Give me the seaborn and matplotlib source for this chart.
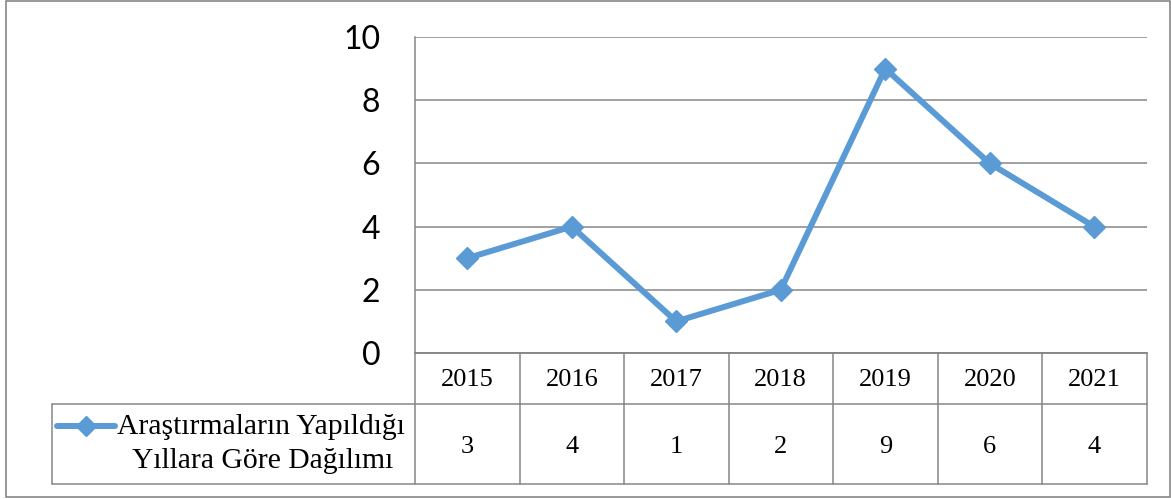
import numpy as np
import matplotlib
matplotlib.use("Agg")
import matplotlib.pyplot as plt
import seaborn as sns
from matplotlib.lines import Line2D
from matplotlib.patches import Rectangle

years = ["2015", "2016", "2017", "2018", "2019", "2020", "2021"]
values = [3, 4, 1, 2, 9, 6, 4]
series_name_1 = "Araştırmaların Yapıldığı"
series_name_2 = "Yıllara Göre Dağılımı"
y_ticks = [0, 2, 4, 6, 8, 10]

sns.set_style("white")
plt.rcParams["font.family"] = ["Lato", "DejaVu Sans"]
plt.rcParams["text.color"] = "black"
plt.rcParams["ytick.color"] = "black"
plt.rcParams["ytick.labelcolor"] = "black"

W, H = 1171, 499
LINE = "#5B9BD5"
GRAY = "#868686"
SERIF = ["Liberation Serif", "DejaVu Serif"]

def fx(px):
    return px / W

def fy(py):
    return 1 - py / H

fig = plt.figure(figsize=(W / 100, H / 100), dpi=100)

# outer frame
fig.patches.append(Rectangle((fx(6), fy(497)), fx(1170) - fx(6), fy(1) - fy(497),
                             transform=fig.transFigure, fill=False,
                             edgecolor=GRAY, lw=1.2))

L, R, T, B = 415, 1146.5, 37, 353
ax = fig.add_axes([fx(L), fy(B), fx(R) - fx(L), fy(T) - fy(B)])
xs = np.arange(len(years))
sns.lineplot(x=xs, y=values, ax=ax, color=LINE, lw=4.3, marker="D",
             markersize=11, markeredgecolor=LINE, markeredgewidth=1)
ax.set_xlim(-0.5, len(years) - 0.5)
ax.set_ylim(0, 10)
ax.set_yticks(y_ticks)
ax.set_yticklabels([str(t) for t in y_ticks], fontsize=23, color="black")
ax.set_xticks([])
ax.tick_params(axis="y", length=0, pad=25)
ax.grid(axis="y", color=GRAY, lw=1.1)
ax.set_axisbelow(True)
for s in ["top", "right"]:
    ax.spines[s].set_visible(False)
for s in ["left", "bottom"]:
    ax.spines[s].set_color(GRAY)
    ax.spines[s].set_linewidth(1.1)
ax.set_xlabel("")
ax.set_ylabel("")

# data table
colw = (R - L) / len(years)
TL = 52
r1b, r2b = 404, 484
tax = fig.add_axes([fx(TL), fy(r2b), fx(R) - fx(TL), fy(B) - fy(r2b)])
x0 = -0.5 - (L - TL) / colw
tax.set_xlim(x0, len(years) - 0.5)
tax.set_ylim(r2b, B)
tax.axis("off")
kw = dict(color=GRAY, lw=1.1, clip_on=False)
tax.plot([-0.5, len(years) - 0.5], [B, B], **kw)
tax.plot([x0, len(years) - 0.5], [r1b, r1b], **kw)
tax.plot([x0, len(years) - 0.5], [r2b, r2b], **kw)
for i in range(len(years) + 1):
    tax.plot([i - 0.5, i - 0.5], [B, r2b], **kw)
tax.plot([x0, x0], [r1b, r2b], **kw)
for i, (yr, v) in enumerate(zip(years, values)):
    tax.text(i, 386, yr, ha="center", va="baseline",
             fontsize=19, family=SERIF, color="black")
    tax.text(i, 453, str(v), ha="center", va="baseline",
             fontsize=19, family=SERIF, color="black")

# legend cell
fig.add_artist(Line2D([fx(57), fx(115)], [fy(426), fy(426)], color=LINE, lw=4.3,
                      solid_capstyle="round", transform=fig.transFigure))
fig.add_artist(Line2D([fx(86)], [fy(426)], color=LINE, marker="D",
                      markersize=10, markeredgecolor=LINE,
                      transform=fig.transFigure))
fig.text(fx(117), fy(434), series_name_1, ha="left", va="baseline",
         fontsize=21.3, family=SERIF, color="black")
fig.text(fx(263), fy(468), series_name_2, ha="center", va="baseline",
         fontsize=21.3, family=SERIF, color="black")

fig.savefig("out.png", dpi=100)
